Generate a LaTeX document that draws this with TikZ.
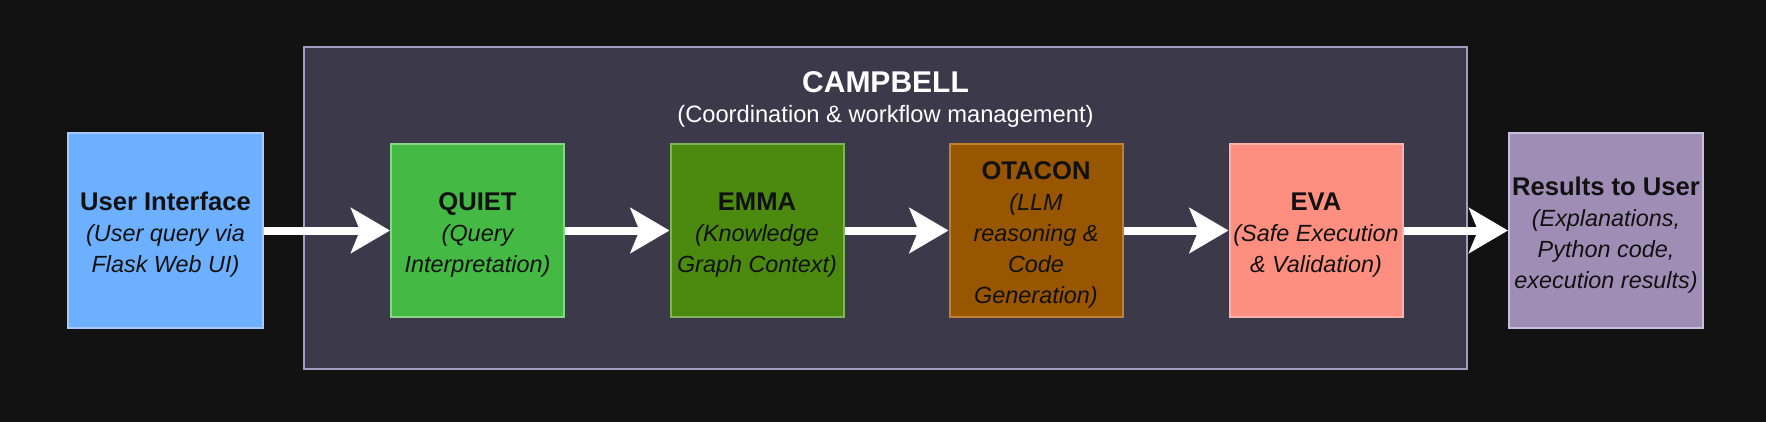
\documentclass[tikz,border=0pt]{standalone}
\usepackage{fontspec}
\setmainfont{Liberation Sans}
\usetikzlibrary{arrows.meta}
\definecolor{bg}{HTML}{121212}
\definecolor{campfill}{HTML}{3C3A4A}
\definecolor{campline}{HTML}{A09CC4}
\definecolor{uifill}{HTML}{6CB0FF}
\definecolor{uiline}{HTML}{A8C8FF}
\definecolor{qfill}{HTML}{44B944}
\definecolor{qline}{HTML}{88D488}
\definecolor{efill}{HTML}{4B8A0F}
\definecolor{eline}{HTML}{80B35A}
\definecolor{ofill}{HTML}{985600}
\definecolor{oline}{HTML}{C08030}
\definecolor{vfill}{HTML}{FE8E80}
\definecolor{vline}{HTML}{FFB3A8}
\definecolor{rfill}{HTML}{A08DB6}
\definecolor{rline}{HTML}{C9BDE0}
\definecolor{txt}{HTML}{111111}
\newcommand{\ttl}[1]{{\fontsize{25.6}{31}\selectfont\bfseries #1}}
\newcommand{\sub}[1]{{\fontsize{23.4}{31}\selectfont\itshape #1}}
\tikzset{
  box/.style={draw, line width=2pt, minimum width=173pt, minimum height=173pt,
    inner sep=0pt},
  bigbox/.style={box, minimum width=195pt, minimum height=195pt},
  lbl/.style={align=center, text=txt, inner sep=0pt,
    font=\fontsize{23.4}{31}\selectfont},
  arr/.style={draw=white, line width=8pt,
    -{Stealth[length=39pt, width=45pt, inset=9pt, fill=white]}},
}
\begin{document}
\begin{tikzpicture}[x=1pt, y=-1pt]
\fill[bg] (0,0) rectangle (1766,422);
\useasboundingbox (0,0) rectangle (1766,422);
\node[draw=campline, fill=campfill, line width=2pt, minimum width=1163pt, minimum height=322pt, inner sep=0pt] (camp) at (885.5,208) {};
\node[text=white, font=\fontsize{30}{34}\selectfont\bfseries] (ctitle) at (885.5,82) {CAMPBELL};
\node[text=white, font=\fontsize{23.7}{30}\selectfont] (csub) at (885.5,116) {(Coordination \& workflow management)};

\node[bigbox, draw=uiline, fill=uifill] (ui) at (165.5,230.5) {};
\node[box, draw=qline, fill=qfill] (quiet) at (477.5,230.5) {};
\node[box, draw=eline, fill=efill] (emma) at (757,230.5) {};
\node[box, draw=oline, fill=ofill] (otacon) at (1036,230.5) {};
\node[box, draw=vline, fill=vfill] (eva) at (1316,230.5) {};
\node[bigbox, draw=rline, fill=rfill, minimum width=194pt] (res) at (1606,230.5) {};

\node[lbl] (uit) at ([yshift=-4.5pt]ui.center) {\ttl{User Interface}\\\sub{(User query via}\\\sub{Flask Web UI)}};
\node[lbl] (quiett) at ([yshift=-4.5pt]quiet.center) {\ttl{QUIET}\\\sub{(Query}\\\sub{Interpretation)}};
\node[lbl] (emmat) at ([yshift=-4.5pt]emma.center) {\ttl{EMMA}\\\sub{(Knowledge}\\\sub{Graph Context)}};
\node[lbl] (otacont) at ([yshift=-4.5pt]otacon.center) {\ttl{OTACON}\\\sub{(LLM}\\\sub{reasoning \&}\\\sub{Code}\\\sub{Generation)}};
\node[lbl] (evat) at ([yshift=-4.5pt]eva.center) {\ttl{EVA}\\\sub{(Safe Execution}\\\sub{\& Validation)}};
\node[lbl] (rest) at ([yshift=-4.5pt]res.center) {\ttl{Results to User}\\\sub{(Explanations,}\\\sub{Python code,}\\\sub{execution results)}};

\draw[arr] (ui.east) -- (quiet.west);
\draw[arr] (quiet.east) -- (emma.west);
\draw[arr] (emma.east) -- (otacon.west);
\draw[arr] (otacon.east) -- (eva.west);
\draw[arr] (eva.east) -- (res.west);
\end{tikzpicture}
\end{document}
